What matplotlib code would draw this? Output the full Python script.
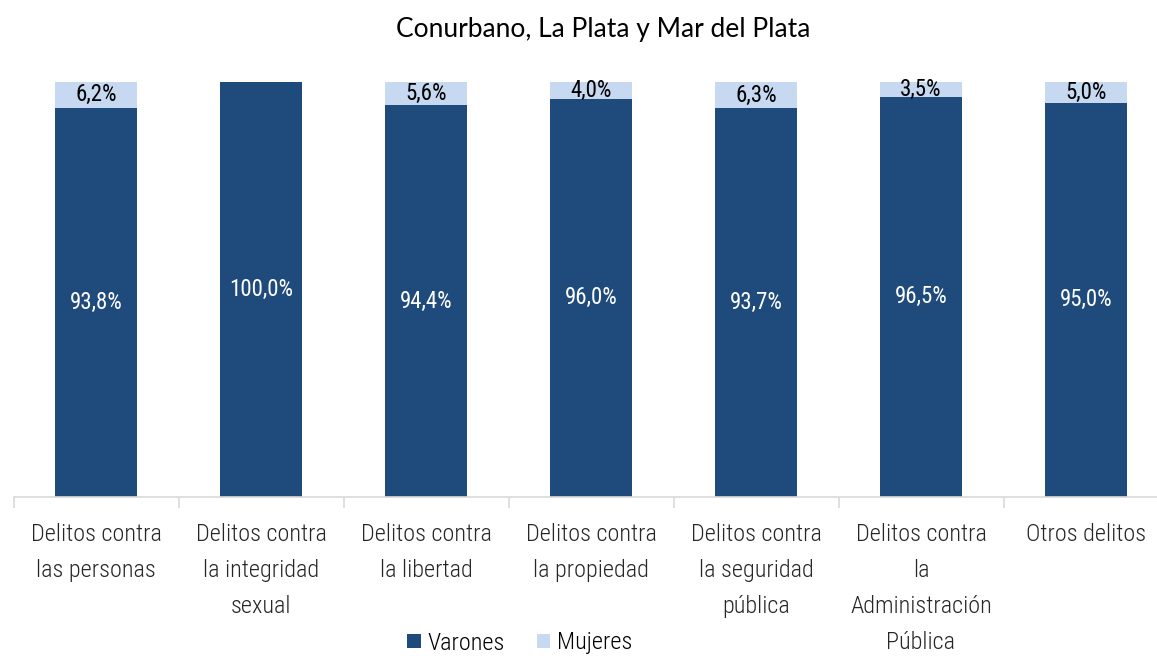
import matplotlib
matplotlib.use("Agg")
import matplotlib.pyplot as plt
from matplotlib import font_manager as fm
import numpy as np

categories = [
    "Delitos contra\nlas personas",
    "Delitos contra\nla integridad\nsexual",
    "Delitos contra\nla libertad",
    "Delitos contra\nla propiedad",
    "Delitos contra\nla seguridad\npública",
    "Delitos contra\nla\nAdministración\nPública",
    "Otros delitos",
]
varones = [93.8, 100.0, 94.4, 96.0, 93.7, 96.5, 95.0]
mujeres = [6.2, 0.0, 5.6, 4.0, 6.3, 3.5, 5.0]
series_names = ["Varones", "Mujeres"]
title = "Conurbano, La Plata y Mar del Plata"

DARK = "#1F4A7C"
LIGHT = "#C6D9F1"

names = {f.name for f in fm.fontManager.ttflist}
cond = None
for cand in ["Roboto Condensed", "Liberation Sans Narrow", "DejaVu Sans Condensed", "Open Sans Condensed"]:
    if cand in names:
        cond = cand
        break
if cond is None:
    cond = "DejaVu Sans"
title_font = "Lato" if "Lato" in names else "DejaVu Sans"

W, H = 1157, 656
fig = plt.figure(figsize=(W / 100, H / 100), dpi=100)
ax = fig.add_axes([13.5 / W, 1 - 497 / H, 1155 / W, 415 / H])

x = np.arange(len(categories))
bw = 0.5
ax.bar(x, varones, bw, color=DARK, label=series_names[0], zorder=2)
ax.bar(x, mujeres, bw, bottom=varones, color=LIGHT, label=series_names[1], zorder=2)

ax.set_xlim(-0.5, len(categories) - 0.5)
ax.set_ylim(0, 100)

for i, (v, m) in enumerate(zip(varones, mujeres)):
    ax.text(i, v / 2, f"{v:.1f}%".replace(".", ","), ha="center", va="center",
            color="white", fontsize=16.5, family=cond, zorder=3)
    if m > 0:
        ax.text(i, v + m / 2, f"{m:.1f}%".replace(".", ","), ha="center", va="center",
                color="black", fontsize=16.5, family=cond, zorder=3)

for s in ["top", "right", "left"]:
    ax.spines[s].set_visible(False)
ax.spines["bottom"].set_color("#D9D9D9")
ax.spines["bottom"].set_linewidth(1.2)
ax.set_yticks([])
ax.set_xticks(x)
ax.set_xticklabels(categories, family=cond, fontsize=17.5, color="#262626",
                   linespacing=1.72, fontweight="light")
ax.tick_params(axis="x", length=0, pad=19)
ax.set_xticks(np.arange(len(categories) + 1) - 0.5, minor=True)
ax.tick_params(axis="x", which="minor", length=8, color="#D9D9D9", width=1.2)

fig.text(603 / W, 1 - 30 / H, title, ha="center", va="center", fontsize=19,
         family=title_font, color="black")

leg = fig.legend(loc="center", bbox_to_anchor=(520 / W, 1 - 643 / H), ncol=2, frameon=False,
                 prop={"family": cond, "size": 17.5, "weight": "light"}, handlelength=0.55,
                 handleheight=0.55, handletextpad=0.3, columnspacing=1.3)

fig.savefig("out.png", dpi=100)
